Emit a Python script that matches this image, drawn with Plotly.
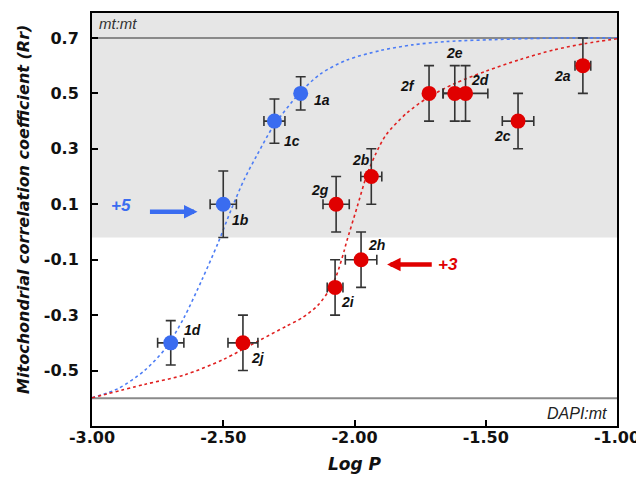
import plotly.graph_objects as go

# ---- data ----
blue_labels = ["1a", "1c", "1b", "1d"]
blue_x = [-2.205, -2.305, -2.50, -2.70]
blue_y = [0.50, 0.40, 0.10, -0.40]
blue_xerr = [0.0, 0.04, 0.05, 0.05]
blue_yerr = [0.06, 0.08, 0.12, 0.08]

red_labels = ["2a", "2c", "2d", "2e", "2f", "2b", "2g", "2h", "2i", "2j"]
red_x = [-1.13, -1.377, -1.577, -1.618, -1.716, -1.936, -2.07, -1.975, -2.074, -2.425]
red_y = [0.60, 0.40, 0.50, 0.50, 0.50, 0.20, 0.10, -0.10, -0.20, -0.40]
red_xerr = [0.03, 0.06, 0.085, 0.045, 0.0, 0.04, 0.05, 0.06, 0.03, 0.057]
red_yerr = [0.10, 0.10, 0.10, 0.10, 0.10, 0.10, 0.10, 0.10, 0.10, 0.10]

# fitted curves
blue_curve_x = [-3.0, -2.9, -2.8, -2.72, -2.65, -2.58, -2.52, -2.47, -2.42, -2.37,
                -2.31, -2.21, -2.13, -2.03, -1.90, -1.78, -1.65, -1.40, -1.20, -1.0]
blue_curve_y = [-0.598, -0.565, -0.50, -0.42, -0.31, -0.17, -0.04, 0.08, 0.19, 0.28,
                0.38, 0.50, 0.57, 0.62, 0.655, 0.675, 0.687, 0.696, 0.70, 0.70]
red_curve_x = [-3.0, -2.8, -2.645, -2.5, -2.36, -2.26, -2.2, -2.14, -2.10, -2.07, -2.04,
               -2.03, -1.99, -1.955, -1.92, -1.88, -1.80, -1.72, -1.62, -1.50, -1.37,
               -1.24, -1.12, -1.0]
red_curve_y = [-0.598, -0.55, -0.515, -0.46, -0.39, -0.34, -0.31, -0.265, -0.215, -0.16,
               -0.07, -0.035, 0.09, 0.20, 0.28, 0.35, 0.43, 0.485, 0.535, 0.58, 0.622,
               0.657, 0.68, 0.697]

label_pos = {
    "1a": (-2.125, 0.477), "1c": (-2.239, 0.327), "1b": (-2.433, 0.044), "1d": (-2.619, -0.353),
    "2j": (-2.368, -0.454), "2i": (-2.025, -0.252), "2h": (-1.916, -0.046), "2g": (-2.131, 0.152),
    "2b": (-1.976, 0.261), "2f": (-1.798, 0.528), "2e": (-1.620, 0.646), "2d": (-1.523, 0.549),
    "2c": (-1.436, 0.348), "2a": (-1.206, 0.561),
}

x_ticks = [-3.0, -2.5, -2.0, -1.5, -1.0]
x_ticktext = ["-3.00", "-2.50", "-2.00", "-1.50", "-1.00"]
y_ticks = [0.7, 0.5, 0.3, 0.1, -0.1, -0.3, -0.5]
y_ticktext = ["0.7", "0.5", "0.3", "0.1", "-0.1", "-0.3", "-0.5"]

mt_level = 0.7
dapi_level = -0.6
shade_bottom = -0.02

BLUE = "#3a6cf0"
RED = "#e00000"
FONT = "Liberation Sans, Arial, Helvetica, sans-serif"
WIDE = "DejaVu Sans, Verdana, sans-serif"

fig = go.Figure()

fig.add_trace(go.Scatter(x=blue_curve_x, y=blue_curve_y, mode="lines",
                         line=dict(color="#4d7df5", width=1.6, dash="dot", shape="spline", smoothing=0.8),
                         hoverinfo="skip", showlegend=False))
fig.add_trace(go.Scatter(x=red_curve_x, y=red_curve_y, mode="lines",
                         line=dict(color="#e02020", width=1.6, dash="dot", shape="spline", smoothing=0.8),
                         hoverinfo="skip", showlegend=False))

err_style = dict(color="#333333", thickness=1.6, width=5)
fig.add_trace(go.Scatter(x=red_x, y=red_y, mode="markers",
                         marker=dict(color=RED, size=15, line=dict(width=0)),
                         error_x=dict(type="data", array=red_xerr, visible=True, **err_style),
                         error_y=dict(type="data", array=red_yerr, visible=True, **err_style),
                         showlegend=False))
fig.add_trace(go.Scatter(x=blue_x, y=blue_y, mode="markers",
                         marker=dict(color=BLUE, size=15, line=dict(width=0)),
                         error_x=dict(type="data", array=blue_xerr, visible=True, **err_style),
                         error_y=dict(type="data", array=blue_yerr, visible=True, **err_style),
                         showlegend=False))

shapes = [
    dict(type="rect", xref="paper", yref="y", x0=0, x1=1, y0=shade_bottom, y1=0.79,
         fillcolor="#e6e6e6", line=dict(width=0), layer="below"),
    dict(type="line", xref="paper", yref="y", x0=0, x1=1, y0=mt_level, y1=mt_level,
         line=dict(color="#8a8a8a", width=2), layer="below"),
    dict(type="line", xref="paper", yref="y", x0=0, x1=1, y0=dapi_level, y1=dapi_level,
         line=dict(color="#8a8a8a", width=2), layer="below"),
]

annotations = []
for lab, (lx, ly) in label_pos.items():
    annotations.append(dict(x=lx, y=ly, text=f"<b><i>{lab}</i></b>", showarrow=False,
                            font=dict(family=FONT, size=14, color="#111111")))

annotations += [
    dict(x=-2.888, y=0.095, text="<b><i>+5</i></b>", showarrow=False,
         font=dict(family=FONT, size=17, color=BLUE)),
    dict(x=-2.598, y=0.073, ax=-2.785, ay=0.073, xref="x", yref="y", axref="x", ayref="y",
         text="", showarrow=True, arrowhead=2, arrowsize=0.6, arrowwidth=4.5, arrowcolor=BLUE),
    dict(x=-1.645, y=-0.117, text="<b><i>+3</i></b>", showarrow=False,
         font=dict(family=FONT, size=17, color=RED)),
    dict(x=-1.876, y=-0.117, ax=-1.70, ay=-0.117, xref="x", yref="y", axref="x", ayref="y",
         text="", showarrow=True, arrowhead=2, arrowsize=0.6, arrowwidth=4.5, arrowcolor=RED),
    dict(xref="paper", yref="y", x=0.01, y=0.752, xanchor="left", text="<i>mt:mt</i>",
         showarrow=False, font=dict(family=FONT, size=15, color="#333333")),
    dict(xref="paper", yref="y", x=0.985, y=-0.655, xanchor="right", text="<i>DAPI:mt</i>",
         showarrow=False, font=dict(family=FONT, size=16, color="#222222")),
    dict(xref="paper", yref="paper", x=0.5, y=-0.091, xanchor="center", yanchor="middle",
         text="<b><i>Log P</i></b>",
         showarrow=False, font=dict(family=WIDE, size=17, color="#111111")),
    dict(xref="paper", yref="paper", x=-0.132, y=0.525, xanchor="center", yanchor="middle",
         textangle=-90,
         text="<b><i>Mitochondrial correlation coefficient (Rr)</i></b>",
         showarrow=False, font=dict(family=WIDE, size=16, color="#111111")),
]

fig.update_layout(
    template="none",
    width=636, height=467,
    margin=dict(l=83.5, r=26.5, t=4.7, b=49, pad=0),
    paper_bgcolor="white", plot_bgcolor="white",
    shapes=shapes, annotations=annotations,
    showlegend=False,
)
fig.update_xaxes(range=[-3.0, -1.0], tickvals=x_ticks, ticktext=[f"<b>{t}</b>" for t in x_ticktext],
                 ticks="inside", ticklen=6, tickwidth=2, tickcolor="black",
                 showline=True, linecolor="black", linewidth=2, mirror=True,
                 showgrid=False, zeroline=False, automargin=False, ticklabelstandoff=-4,
                 ticklabeloverflow="allow",
                 tickfont=dict(family=WIDE, size=16, color="#111111"))
fig.update_yaxes(range=[-0.70, 0.79], tickvals=y_ticks, ticktext=[f"<b>{t}</b>" for t in y_ticktext],
                 ticks="inside", ticklen=6, tickwidth=2, tickcolor="black",
                 showline=True, linecolor="black", linewidth=2, mirror=True,
                 showgrid=False, zeroline=False, automargin=False, ticklabelstandoff=8,
                 tickfont=dict(family=WIDE, size=16, color="#111111"))

fig.write_html("out.html")
